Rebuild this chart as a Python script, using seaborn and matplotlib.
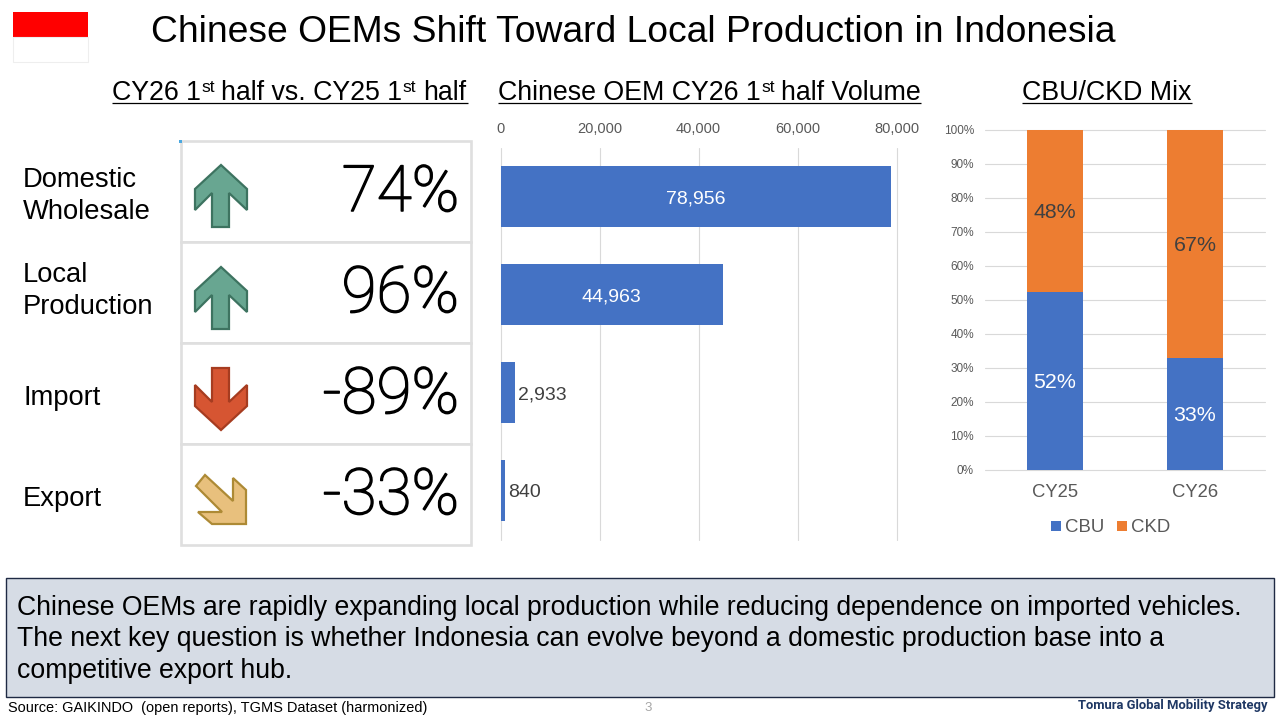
import matplotlib
matplotlib.use('Agg')
import matplotlib.pyplot as plt
import matplotlib.patheffects as pe
from matplotlib.patches import Rectangle, Polygon
import pandas as pd
import seaborn as sns

title = 'Chinese OEMs Shift Toward Local Production in Indonesia'
kpi_labels = ['Domestic\nWholesale', 'Local\nProduction', 'Import', 'Export']
kpi_values = ['74%', '96%', '-89%', '-33%']
volume_names = ['Domestic Wholesale', 'Local Production', 'Import', 'Export']
volume_values = [78956, 44963, 2933, 840]
mix_years = ['CY25', 'CY26']
cbu_share = [52.4, 33.0]
ckd_share = [47.6, 67.0]
cbu_labels = ['52%', '33%']
ckd_labels = ['48%', '67%']
summary = ('Chinese OEMs are rapidly expanding local production while reducing dependence on imported vehicles.\n'
           'The next key question is whether Indonesia can evolve beyond a domestic production base into a\n'
           'competitive export hub.')

BLUE = '#4472c4'
ORANGE = '#ed7d31'
GRID = '#d9d9d9'
TICK = '#595959'
W, H = 1280, 720

sns.set_theme(style='white')
plt.rcParams['font.family'] = ['Liberation Sans', 'DejaVu Sans']

fig = plt.figure(figsize=(12.8, 7.2), dpi=100)


# axes from pixel box
def px_axes(x0, y0, x1, y1):
    return fig.add_axes([x0 / W, 1 - y1 / H, (x1 - x0) / W, (y1 - y0) / H])


# full page overlay in pixel coords
bg = fig.add_axes([0, 0, 1, 1], zorder=0)
bg.set_xlim(0, W)
bg.set_ylim(H, 0)
bg.axis('off')

# flag
bg.add_patch(Rectangle((13, 12), 75, 24.5, fc='#ff0000', ec='none'))
bg.add_patch(Rectangle((13, 36.5), 75, 25, fc='white', ec='#eeeeee', lw=0.8))

bg.text(633, 33, title, fontsize=26.8, ha='center', va='center', color='black')

renderer = fig.canvas.get_renderer()


# heading written piece by piece so "st" can sit raised and small
def heading(x0, x1, parts):
    x = x0
    for txt, sup in parts:
        if sup:
            t = bg.text(x + 0.5, 92, txt, fontsize=12.5, ha='left', va='baseline', color='black')
            x = t.get_window_extent(renderer).x1 + 6.5
        else:
            t = bg.text(x, 99.5, txt, fontsize=19.3, ha='left', va='baseline', color='black')
            x = t.get_window_extent(renderer).x1
    bg.plot([x0, x1], [103, 103], color='black', lw=0.9, solid_capstyle='butt')


heading(112, 468, [('CY26 1', False), ('st', True), ('half vs. CY25 1', False), ('st', True), ('half', False)])
heading(498, 921, [('Chinese OEM CY26 1', False), ('st', True), ('half Volume', False)])
heading(1022, 1192, [('CBU/CKD Mix', False)])

# KPI table
rows = [141, 242, 343, 444, 545]
for top, bot in zip(rows[:-1], rows[1:]):
    bg.add_patch(Rectangle((180.5, top), 290.5, bot - top, fc='white', ec='#dfdfdf', lw=1.9))
bg.add_patch(Rectangle((179, 140), 3, 2.5, fc='#4aa8e0', ec='none'))

label_y = [196, 291, 398, 499]
for lab, val, y, top in zip(kpi_labels, kpi_values, label_y, rows):
    bg.text(23, y, lab, fontsize=19.7, ha='left', va='center', color='black', linespacing=1.29)
    # only a hairline light cut is picked, so thicken it a little
    bg.text(459, top + 70, val, fontsize=46, ha='right', va='baseline', color='black',
            family='Roboto', fontweight='light',
            path_effects=[pe.withStroke(linewidth=1.1, foreground='black')])


def arrow_up(y, fc, ec):
    pts = [(221, y), (247, y + 24), (247, y + 45), (229, y + 28), (229, y + 62), (212, y + 62),
           (212, y + 28), (195, y + 45), (195, y + 24)]
    bg.add_patch(Polygon(pts, closed=True, fc=fc, ec=ec, lw=1.6))


def arrow_down(y, fc, ec):
    pts = [(212, y), (229, y), (229, y + 34), (247, y + 17), (247, y + 38), (221, y + 62),
           (195, y + 38), (195, y + 17), (212, y + 34)]
    bg.add_patch(Polygon(pts, closed=True, fc=fc, ec=ec, lw=1.6))


arrow_up(165, '#68a691', '#3d7360')
arrow_up(267, '#68a691', '#3d7360')
arrow_down(368, '#d65532', '#a63c20')
pts = [(205, 475), (233, 501), (233, 478), (246, 490), (246, 524), (212, 524), (198, 512),
       (222, 512), (196, 486)]
bg.add_patch(Polygon(pts, closed=True, fc='#e8c07d', ec='#ad8a35', lw=1.6))

# volume bars
ax1 = px_axes(500.5, 147.5, 896.5, 539.5)
vol = pd.DataFrame({'name': volume_names, 'volume': volume_values})
sns.barplot(data=vol, y='name', x='volume', color=BLUE, saturation=1, width=0.62, linewidth=0, ax=ax1)
ax1.set_xlim(0, 80000)
ax1.set_xticks([0, 20000, 40000, 60000, 80000])
ax1.set_xticklabels(['0', '20,000', '40,000', '60,000', '80,000'])
ax1.xaxis.tick_top()
ax1.tick_params(axis='x', length=0, labelsize=10.5, labelcolor=TICK, pad=8)
ax1.tick_params(axis='y', left=False, labelleft=False)
ax1.set_xlabel('')
ax1.set_ylabel('')
ax1.grid(axis='x', color=GRID, lw=0.8, clip_on=False)
ax1.set_axisbelow(True)
sns.despine(ax=ax1, left=True, bottom=True, top=True, right=True)
for i, v in enumerate(volume_values):
    if v > 10000:
        ax1.text(v / 2, i, f'{v:,}', color='white', fontsize=14, ha='center', va='center_baseline')
    else:
        ax1.annotate(f'{v:,}', (v, i), xytext=(2.5, 0), textcoords='offset points', color='#404040',
                     fontsize=14, ha='left', va='center_baseline')

# mix bars
ax2 = px_axes(985, 130, 1265, 470)
mix = pd.DataFrame({'year': mix_years, 'total': [a + b for a, b in zip(cbu_share, ckd_share)], 'cbu': cbu_share})
sns.barplot(data=mix, x='year', y='total', color=ORANGE, saturation=1, width=0.4, linewidth=0, ax=ax2)
sns.barplot(data=mix, x='year', y='cbu', color=BLUE, saturation=1, width=0.4, linewidth=0, ax=ax2)
ax2.set_ylim(0, 100)
ax2.set_yticks(range(0, 101, 10))
ax2.set_yticklabels([f'{t}%' for t in range(0, 101, 10)])
ax2.tick_params(axis='y', length=0, labelsize=8.5, labelcolor=TICK, pad=8)
ax2.tick_params(axis='x', length=0, labelsize=13.3, labelcolor=TICK, pad=10)
ax2.set_xlabel('')
ax2.set_ylabel('')
ax2.grid(axis='y', color=GRID, lw=0.8, clip_on=False)
ax2.set_axisbelow(True)
sns.despine(ax=ax2, left=True, top=True, right=True, bottom=True)
for i in range(2):
    ax2.text(i, cbu_share[i] / 2, cbu_labels[i], color='white', fontsize=15.4, ha='center',
             va='center_baseline')
    ax2.text(i, cbu_share[i] + ckd_share[i] / 2, ckd_labels[i], color='#404040', fontsize=15.4,
             ha='center', va='center_baseline')

# legend
bg.add_patch(Rectangle((1051, 521), 10, 10, fc=BLUE, ec='none'))
bg.text(1065, 527, 'CBU', fontsize=13.4, color=TICK, ha='left', va='center')
bg.add_patch(Rectangle((1117, 521), 9.5, 10, fc=ORANGE, ec='none'))
bg.text(1131, 527, 'CKD', fontsize=13.4, color=TICK, ha='left', va='center')

# summary box
bg.add_patch(Rectangle((6, 577.5), 1267.5, 119.5, fc='#d6dce5', ec='#1f2a44', lw=1))
bg.text(17, 639.5, summary, fontsize=19.15, color='black', ha='left', va='center', linespacing=1.27)

# footer
bg.text(8, 708, 'Source: GAIKINDO  (open reports), TGMS Dataset (harmonized)', fontsize=10.47, color='black',
        ha='left', va='center')
bg.text(648, 708, '3', fontsize=9.5, color='#a6a6a6', ha='center', va='center')
bg.text(1268, 705, 'Tomura Global Mobility Strategy', fontsize=9.35, color='#1f3864', fontweight='bold',
        family='Roboto', ha='right', va='center')

fig.savefig('out.png', dpi=100)
